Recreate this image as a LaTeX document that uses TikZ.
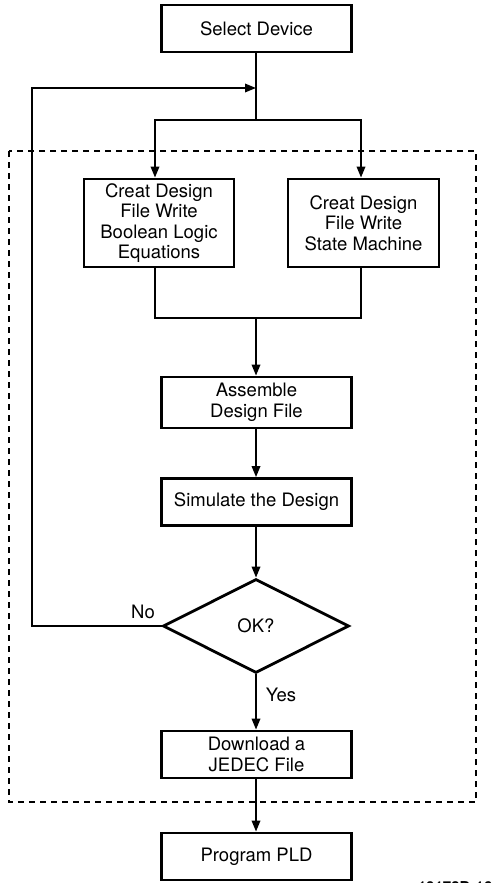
\documentclass[tikz,border=0pt]{standalone}
\usepackage{fontspec}
\setmainfont{TeX Gyre Heros}
\usetikzlibrary{shapes.geometric,arrows.meta}
\begin{document}
\begin{tikzpicture}[x=1pt,y=-1pt,
  box/.style={draw,line width=2.8pt,rectangle,inner sep=0pt,align=center,
    font=\fontsize{18.5}{20.5}\selectfont,minimum width=190pt},
  dec/.style={draw,line width=2.8pt,diamond,inner sep=0pt,
    minimum width=186pt,minimum height=94pt,font=\fontsize{18.5}{20.5}\selectfont},
  conn/.style={line width=1.8pt},
  arr/.style={conn,-{Triangle[length=11pt,width=8.5pt]}},
  lbl/.style={font=\fontsize{18.5}{20.5}\selectfont,inner sep=0pt},
  frame/.style={line width=1.8pt,dash pattern=on 6pt off 5pt}]
\useasboundingbox (0,0) rectangle (495,883);

\node[box,minimum height=47pt] (sel) at (256.5,28.5) {Select Device};
\node[box,minimum width=150pt,minimum height=88pt] (left) at (159,223)
  {Creat Design\\File Write\\Boolean Logic\\Equations};
\node[box,minimum width=151pt,minimum height=88pt] (right) at (363.5,223)
  {Creat Design\\File Write\\State Machine};
\node[box,minimum height=51pt] (asm) at (256.5,402.5) {Assemble\\Design File};
\node[box,minimum height=47pt] (sim) at (256.5,502) {Simulate the Design};
\node[dec] (ok) at (256,626) {OK?};
\node[box,minimum height=47pt] (dl) at (256.5,754.5) {Download a\\JEDEC File};
\node[box,minimum height=47pt] (prog) at (256.5,856.5) {Program PLD};

\draw[frame] (9,151) rectangle (476,802);

\coordinate (j1) at (256,88);
\coordinate (j2) at (256,120);
\coordinate (bl) at (155,120);
\coordinate (br) at (361,120);
\coordinate (ml) at (155,318);
\coordinate (mr) at (361,318);
\coordinate (m) at (256,318);
\coordinate (lp) at (32,626);
\coordinate (lt) at (32,88);

\draw[conn] (sel.south -| j2) -- (j2);
\draw[arr] (j2) -- (bl) -- (bl |- left.north);
\draw[arr] (j2) -- (br) -- (br |- right.north);
\draw[conn] (left.south -| ml) -- (ml) -- (mr) -- (right.south -| mr);
\draw[arr] (m) -- (asm.north -| m);
\draw[arr] (asm.south -| m) -- (sim.north -| m);
\draw[arr] (sim.south -| m) -- (ok.north);
\draw[arr] (ok.south) -- (dl.north -| ok.south);
\draw[arr] (dl.south -| ok.south) -- (prog.north -| ok.south);
\draw[arr] (ok.west) -- (lp) -- (lt) -- (j1);

\node[lbl] (no) at (143,612) {No};
\node[lbl] (yes) at (281,695) {Yes};
\node[font=\bfseries\fontsize{15}{17}\selectfont,inner sep=0pt] (fig) at (455,887) {10173D-16};
\end{tikzpicture}
\end{document}
